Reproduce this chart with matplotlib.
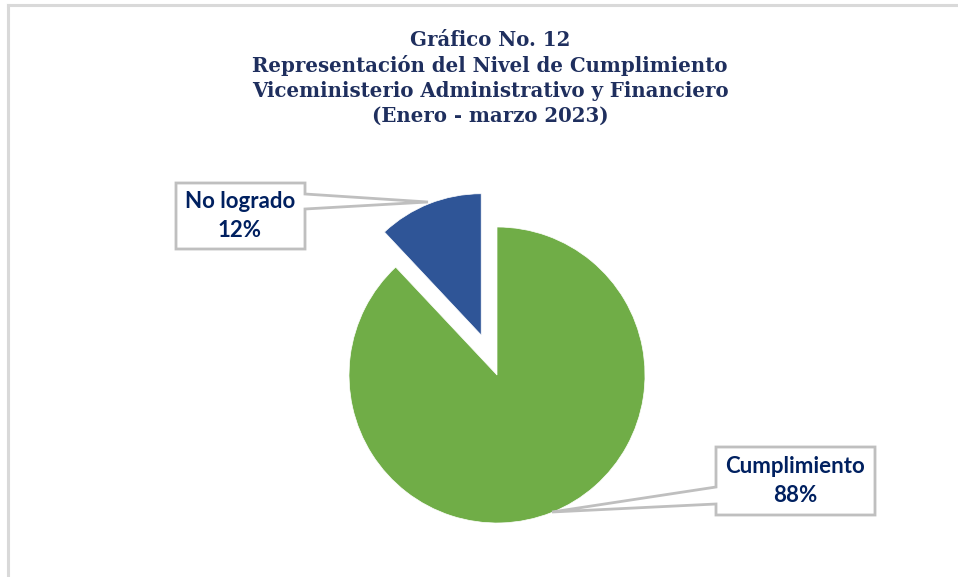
import matplotlib.pyplot as plt
from matplotlib.patches import Polygon
from matplotlib.lines import Line2D

# data
categories = ["Cumplimiento", "No logrado"]
values = [88, 12]
colors = ["#70AD47", "#2F5597"]
explode = [0, 0.29]

title_lines = ["Gráfico No. 12",
               "Representación del Nivel de Cumplimiento",
               "Viceministerio Administrativo y Financiero",
               "(Enero - marzo 2023)"]

W, H = 958, 577
fig = plt.figure(figsize=(W / 100, H / 100), dpi=100)


def px(x, y):
    # pixel (from top-left) to figure fraction
    return x / W, 1 - y / H


# light frame round the chart area
fig.add_artist(Line2D([8 / W, 1], [1 - 5 / H, 1 - 5 / H], color="#D9D9D9", lw=2.2))
fig.add_artist(Line2D([8 / W, 8 / W], [0, 1 - 5 / H], color="#D9D9D9", lw=2.2))

# title
navy = "#1F2F5E"
for i, line in enumerate(title_lines):
    x, y = px(490, 40 + i * 25.3)
    fig.text(x, y, line, ha="center", va="center", fontsize=14.2,
             fontweight="bold", family="DejaVu Serif", color=navy)

# pie, centre at (497, 375) px, radius 148 px
R = 148
half = 1.5 * R
l, t = px(497 - half, 375 - half)
ax = fig.add_axes([l, t - 2 * half / H, 2 * half / W, 2 * half / H])
wedges, _ = ax.pie(values, colors=colors, explode=explode, startangle=90,
                   counterclock=False, wedgeprops=dict(edgecolor="white", linewidth=0.5))
wedges[1].set_radius(0.955)  # exploded slice drawn a little smaller
ax.set_xlim(-1.5, 1.5)
ax.set_ylim(-1.5, 1.5)
ax.set_aspect("equal")
ax.axis("off")

# callout boxes
label_color = "#002060"
callouts = [
    ("No logrado\n12%", [(176, 183), (305, 183), (305, 194), (428, 202),
                          (305, 209), (305, 249), (176, 249)], (240, 216)),
    ("Cumplimiento\n88%", [(716, 447), (875, 447), (875, 515), (716, 515),
                            (716, 504), (552, 512), (716, 487)], (795, 481)),
]
for text, pts, centre in callouts:
    poly = Polygon([px(*p) for p in pts], closed=True, transform=fig.transFigure,
                   facecolor="white", edgecolor="#BFBFBF", lw=2, zorder=5)
    fig.add_artist(poly)
    cx, cy = px(*centre)
    fig.text(cx, cy, text, ha="center", va="center", fontsize=16, fontweight="bold",
             family="Lato", color=label_color, linespacing=1.45, zorder=6)

fig.savefig("out.png", dpi=100)
